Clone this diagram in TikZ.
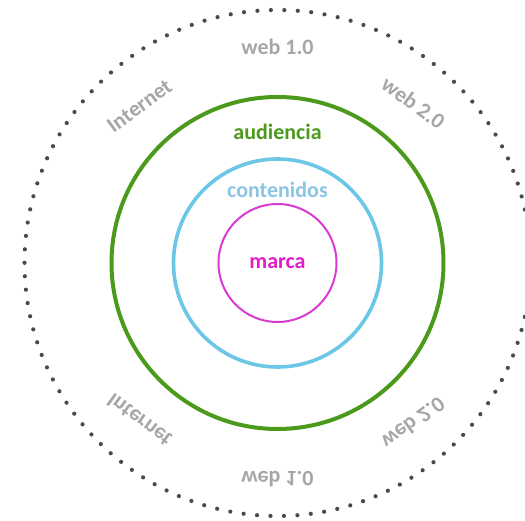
\documentclass[tikz,border=0pt]{standalone}
\usepackage{fontspec}
\setmainfont{Carlito}
\usepackage{tikz}
\usetikzlibrary{positioning}

\definecolor{audgreen}{HTML}{4C9A1C}
\definecolor{contblue}{HTML}{6CC6E6}
\definecolor{contlabel}{HTML}{8CC4E4}
\definecolor{marcapink}{HTML}{D93AD3}
\definecolor{marcalabel}{HTML}{E21CC8}
\definecolor{webgray}{HTML}{A6A6A6}
\definecolor{dotgray}{HTML}{4A4A4A}

\begin{document}
\begin{tikzpicture}[x=1pt,y=1pt,
    ring/.style={circle,draw,inner sep=0pt},
    ringlabel/.style={font=\fontsize{22}{26}\selectfont\bfseries,inner sep=0pt},
    weblabel/.style={ringlabel,text=webgray}]
    \useasboundingbox (-277.5,-258) rectangle (247.5,263);
    % outer dotted ring
    \draw[dotgray,line width=4.2pt,line cap=round,dash pattern=on 0pt off 13.47pt] (0,0) circle (253);
    \node[ring,draw=audgreen,line width=4pt,minimum size=332pt] (audiencia) at (0,0) {};
    \node[ring,draw=contblue,line width=3.6pt,minimum size=208pt] (contenidos) at (0,0) {};
    \node[ring,draw=marcapink,line width=2pt,minimum size=118pt] (marca) at (0,0) {};
    \node[ringlabel,text=audgreen] (audlabel) at (0,131) {audiencia};
    \node[ringlabel,text=contlabel] (contlabel) at (0,73) {contenidos};
    \node[ringlabel,text=marcalabel] (marcalabel) at (0,0) {marca};
    % web labels, top and mirrored below
    \foreach \s/\n in {1/top,-1/bot}{
        \begin{scope}[yscale=\s,transform shape]
            \node[weblabel] (web1-\n) at (0,216) {web 1.0};
            \node[weblabel,rotate=-36] (web2-\n) at (136,160) {web 2.0};
            \node[weblabel,rotate=36] (internet-\n) at (-138,157) {Internet};
        \end{scope}
    }
\end{tikzpicture}
\end{document}
